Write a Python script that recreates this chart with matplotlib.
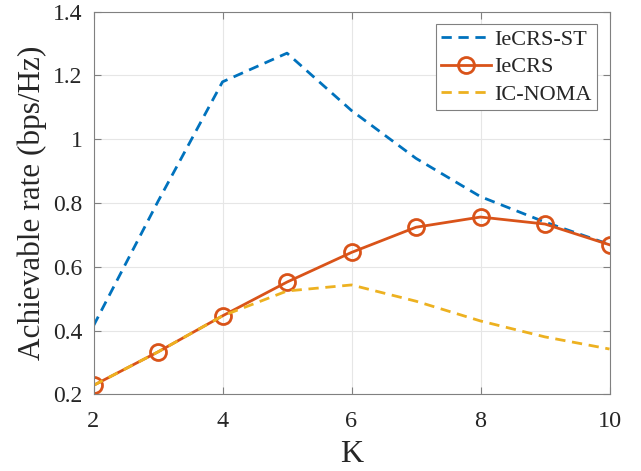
import matplotlib
matplotlib.use("Agg")
import matplotlib.pyplot as plt

K = [2, 3, 4, 5, 6, 7, 8, 9, 10]
iecrs_st = [0.415, 0.805, 1.18, 1.27, 1.09, 0.94, 0.82, 0.74, 0.67]
iecrs = [0.228, 0.333, 0.446, 0.552, 0.645, 0.724, 0.756, 0.734, 0.669]
ic_noma = [0.228, 0.333, 0.446, 0.524, 0.543, 0.492, 0.43, 0.38, 0.342]
xticks = [2, 4, 6, 8, 10]
yticks = [0.2, 0.4, 0.6, 0.8, 1.0, 1.2, 1.4]
ytick_labels = ["0.2", "0.4", "0.6", "0.8", "1", "1.2", "1.4"]

plt.rcParams['font.family'] = ['Liberation Serif', 'DejaVu Serif']
plt.rcParams['mathtext.fontset'] = 'stix'

fig = plt.figure(figsize=(6.41, 4.71), dpi=100)
L, R, T, B = 93.5, 609.5, 11.7, 394.3
ax = fig.add_axes([L/641, 1-B/471, (R-L)/641, (B-T)/471])

ax.plot(K, iecrs_st, linestyle=(0, (3.7, 2.4)), color='#0072BD', lw=2, label='IeCRS-ST')
ax.plot(K, iecrs, '-o', color='#D95319', lw=2, ms=11.5, mfc='none', mew=2, label='IeCRS')
ax.plot(K, ic_noma, linestyle=(0, (3.7, 2.4)), color='#EDB120', lw=2, label='IC-NOMA')

ax.set_xlim(2, 10)
ax.set_ylim(0.2, 1.4)
ax.set_xticks(xticks)
ax.set_yticks(yticks)
ax.set_yticklabels(ytick_labels)
ax.grid(True, color='#e6e6e6', lw=0.8)
ax.set_axisbelow(True)
for s in ax.spines.values():
    s.set_color('#808080')
    s.set_linewidth(0.8)
ax.tick_params(direction='in', top=True, right=True, length=5, width=0.8,
               color='#808080', labelsize=17, labelcolor='#262626')
ax.tick_params(axis='x', pad=12, labelsize=17.5)
ax.tick_params(axis='y', pad=8)
ax.set_xlabel('K', fontsize=23, color='#262626', labelpad=6)
ax.set_ylabel('Achievable rate (bps/Hz)', fontsize=22.5, color='#262626', labelpad=4)

leg = ax.legend(loc='upper right', fontsize=16, frameon=True, fancybox=False,
                edgecolor='#808080', framealpha=1, handlelength=2.25,
                borderaxespad=0.56, labelspacing=0.3, handletextpad=0.12,
                borderpad=0.25)
leg.get_frame().set_linewidth(0.8)
for t in leg.get_texts():
    t.set_color('#262626')

fig.savefig('out.png', dpi=100)
